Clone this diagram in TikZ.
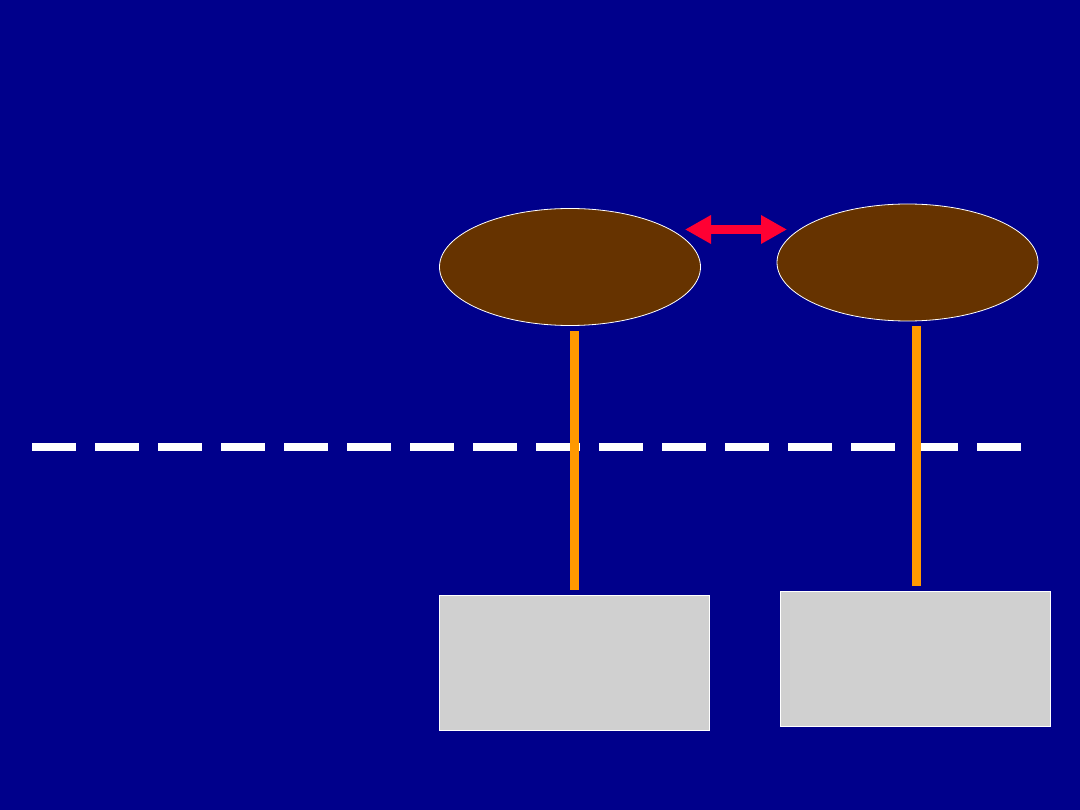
\documentclass[tikz,border=0pt]{standalone}
\usetikzlibrary{shapes.geometric,arrows.meta}
\definecolor{bgnavy}{RGB}{0,0,139}
\definecolor{brownfill}{RGB}{102,51,0}
\definecolor{orangeline}{RGB}{255,153,0}
\definecolor{redarrow}{RGB}{255,0,51}
\definecolor{grayfill}{RGB}{208,208,208}
\tikzset{
  blob/.style={ellipse, draw=white, line width=0.8pt, fill=brownfill, minimum width=261pt, minimum height=117pt, inner sep=0pt},
  box/.style={rectangle, draw=white, line width=0.8pt, fill=grayfill, minimum width=270pt, minimum height=135pt, inner sep=0pt},
  stem/.style={draw=orangeline, line width=9pt, shorten <=5pt, shorten >=5pt},
  link/.style={draw=redarrow, line width=9pt, {Triangle[length=26pt,width=27pt]}-{Triangle[length=26pt,width=27pt]}},
  divider/.style={draw=white, line width=7.5pt, dash pattern=on 44pt off 19pt}
}
\begin{document}
\begin{tikzpicture}[x=1pt,y=-1pt]
\fill[bgnavy] (0,0) rectangle (1080,810);
\useasboundingbox (0,0) rectangle (1080,810);
\coordinate (dl) at (32,447);
\coordinate (dr) at (1021,447);
\draw[divider] (dl) -- (dr);
\node[blob] (e1) at (570,267) {};
\node[blob] (e2) at (907.5,262.5) {};
\node[box] (b1) at (574.5,663) {};
\node[box] (b2) at (915,658.5) {};
\draw[stem] ([xshift=4.5pt]e1.south) -- ([xshift=4.5pt]e1.south |- b1.north);
\draw[stem] ([xshift=8.5pt]e2.south) -- ([xshift=8.5pt]e2.south |- b2.north);
\coordinate (al) at (685,229.5);
\coordinate (ar) at (787,229.5);
\draw[link] (al) -- (ar);
\end{tikzpicture}
\end{document}
